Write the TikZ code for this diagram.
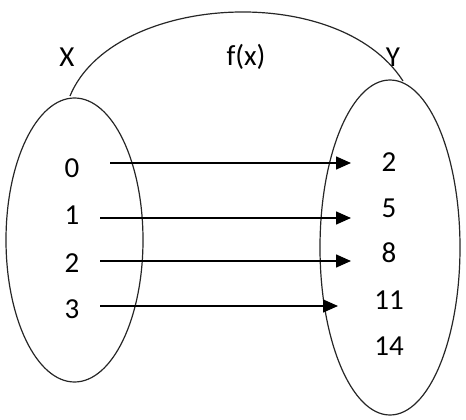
\documentclass[tikz,border=0pt]{standalone}
\usepackage{fontspec}
\setmainfont{Carlito}
\usetikzlibrary{arrows.meta,shapes.geometric}
\begin{document}
\begin{tikzpicture}[x=1pt,y=-1pt,
  setshape/.style={draw=black!85,line width=1.2pt},
  setnode/.style={setshape,ellipse,inner sep=0pt,outer sep=0pt},
  lbl/.style={font=\fontsize{29}{33}\selectfont,inner sep=0pt,anchor=center},
  maparrow/.style={draw=black,line width=1.5pt,-{Triangle[length=15pt,width=13pt]}}]
\useasboundingbox (0,0) rectangle (466,420);
\node[setnode,minimum width=137pt,minimum height=284pt] (Xset) at (74.5,240) {};
\node[setnode,minimum width=140pt,minimum height=335pt] (Yset) at (390,247.5) {};
\coordinate (arcA) at (70,96);
\coordinate (arcB) at (403,81);
\draw[setshape] (arcA) .. controls (112,-6) and (338,-20) .. (arcB);
\node[lbl] (lx) at (67,57) {X};
\node[lbl] (lf) at (246,57) {f(x)};
\node[lbl] (ly) at (393,57) {Y};
\node[lbl] (d0) at (72,168) {0};
\node[lbl] (d1) at (72,215) {1};
\node[lbl] (d2) at (72,263) {2};
\node[lbl] (d3) at (72,309) {3};
\node[lbl] (r2) at (389,162) {2};
\node[lbl] (r5) at (389,208) {5};
\node[lbl] (r8) at (389,253) {8};
\node[lbl] (r11) at (389,300) {11};
\node[lbl] (r14) at (389,346) {14};
\coordinate (s0) at (110,163);
\coordinate (e0) at (351,163);
\coordinate (s1) at (100,218);
\coordinate (e1) at (351,218);
\coordinate (s2) at (100,261);
\coordinate (e2) at (351,261);
\coordinate (s3) at (100,306);
\coordinate (e3) at (338,306);
\draw[maparrow] (s0) -- (e0);
\draw[maparrow] (s1) -- (e1);
\draw[maparrow] (s2) -- (e2);
\draw[maparrow] (s3) -- (e3);
\end{tikzpicture}
\end{document}
